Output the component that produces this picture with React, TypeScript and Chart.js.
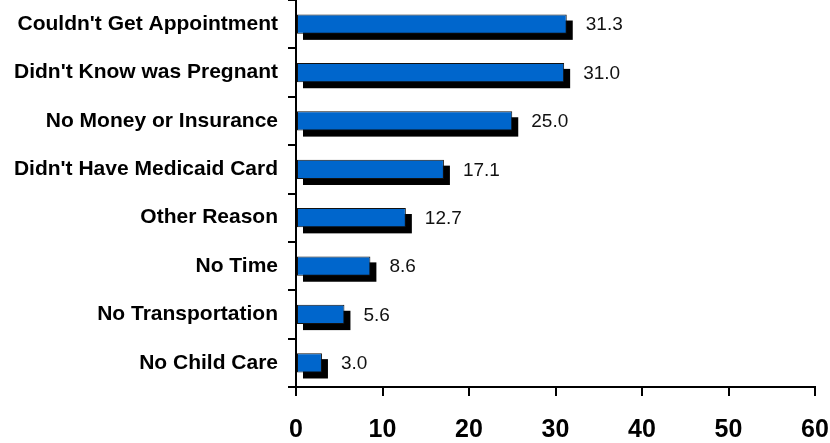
import React, { useEffect, useRef } from "react";
import { Chart, registerables } from "chart.js";

Chart.register(...registerables);

const categories = [
  "Couldn't Get Appointment",
  "Didn't Know was Pregnant",
  "No Money or Insurance",
  "Didn't Have Medicaid Card",
  "Other Reason",
  "No Time",
  "No Transportation",
  "No Child Care",
];
const values = [31.3, 31.0, 25.0, 17.1, 12.7, 8.6, 5.6, 3.0];
const xTicks = [0, 10, 20, 30, 40, 50, 60];

const FONT = "'Liberation Sans', Arial, Helvetica, sans-serif";
const SHADOW = 6;

const shadowPlugin = {
  id: "barShadow",
  beforeDatasetsDraw(chart: any) {
    const ctx = chart.ctx;
    const meta = chart.getDatasetMeta(0);
    ctx.save();
    ctx.fillStyle = "#000";
    meta.data.forEach((bar: any) => {
      const p = bar.getProps(["x", "y", "base", "height"], true);
      ctx.fillRect(p.base + SHADOW, p.y - p.height / 2 + SHADOW, p.x - p.base, p.height);
    });
    ctx.restore();
  },
  afterDatasetsDraw(chart: any) {
    const ctx = chart.ctx;
    const meta = chart.getDatasetMeta(0);
    ctx.save();
    ctx.fillStyle = "#111";
    ctx.font = `19px ${FONT}`;
    ctx.textBaseline = "middle";
    ctx.textAlign = "left";
    meta.data.forEach((bar: any, i: number) => {
      const p = bar.getProps(["x", "y"], true);
      ctx.fillText(values[i].toFixed(1), p.x + SHADOW + 13, p.y + 1);
    });
    ctx.restore();
  },
};

export default function App() {
  const ref = useRef<HTMLCanvasElement>(null);
  useEffect(() => {
    if (!ref.current) return;
    const chart = new Chart(ref.current, {
      type: "bar",
      data: {
        labels: categories,
        datasets: [
          {
            data: values,
            backgroundColor: "#0066CC",
            borderColor: "#111",
            borderWidth: 1,
            borderSkipped: false,
            barPercentage: 0.4,
            categoryPercentage: 1,
          },
        ],
      },
      options: {
        indexAxis: "y",
        animation: false,
        responsive: true,
        maintainAspectRatio: false,
        layout: { padding: { top: 0, right: 15, left: 0, bottom: 0 } },
        plugins: { legend: { display: false }, tooltip: { enabled: false } },
        scales: {
          x: {
            min: 0,
            max: 60,
            afterBuildTicks(scale: any) {
              scale.ticks = xTicks.map((v) => ({ value: v }));
            },
            afterFit(scale: any) {
              scale.height = 56;
              scale.paddingLeft = 0;
              scale.paddingRight = 0;
            },
            border: { display: true, color: "#000", width: 2 },
            grid: {
              display: true,
              drawOnChartArea: false,
              drawTicks: true,
              tickLength: 9,
              color: "#000",
              lineWidth: 2,
            },
            ticks: {
              color: "#000",
              font: { family: FONT, size: 25, weight: "bold" },
              padding: 19,
              maxRotation: 0,
            },
          },
          y: {
            afterFit(scale: any) {
              scale.width = 296;
              scale.paddingTop = 0;
              scale.paddingBottom = 0;
            },
            border: { display: true, color: "#000", width: 2 },
            grid: {
              display: true,
              offset: true,
              drawOnChartArea: false,
              drawTicks: true,
              tickLength: 8,
              color: "#000",
              lineWidth: 2,
            },
            ticks: {
              color: "#000",
              font: { family: FONT, size: 21, weight: "bold" },
              padding: 10,
            },
          },
        },
      },
      plugins: [shadowPlugin],
    } as any);
    return () => chart.destroy();
  }, []);
  return (
    <div style={{ position: "fixed", left: 0, top: 0, width: 830, height: 443, background: "#fff" }}>
      <canvas ref={ref} />
    </div>
  );
}
